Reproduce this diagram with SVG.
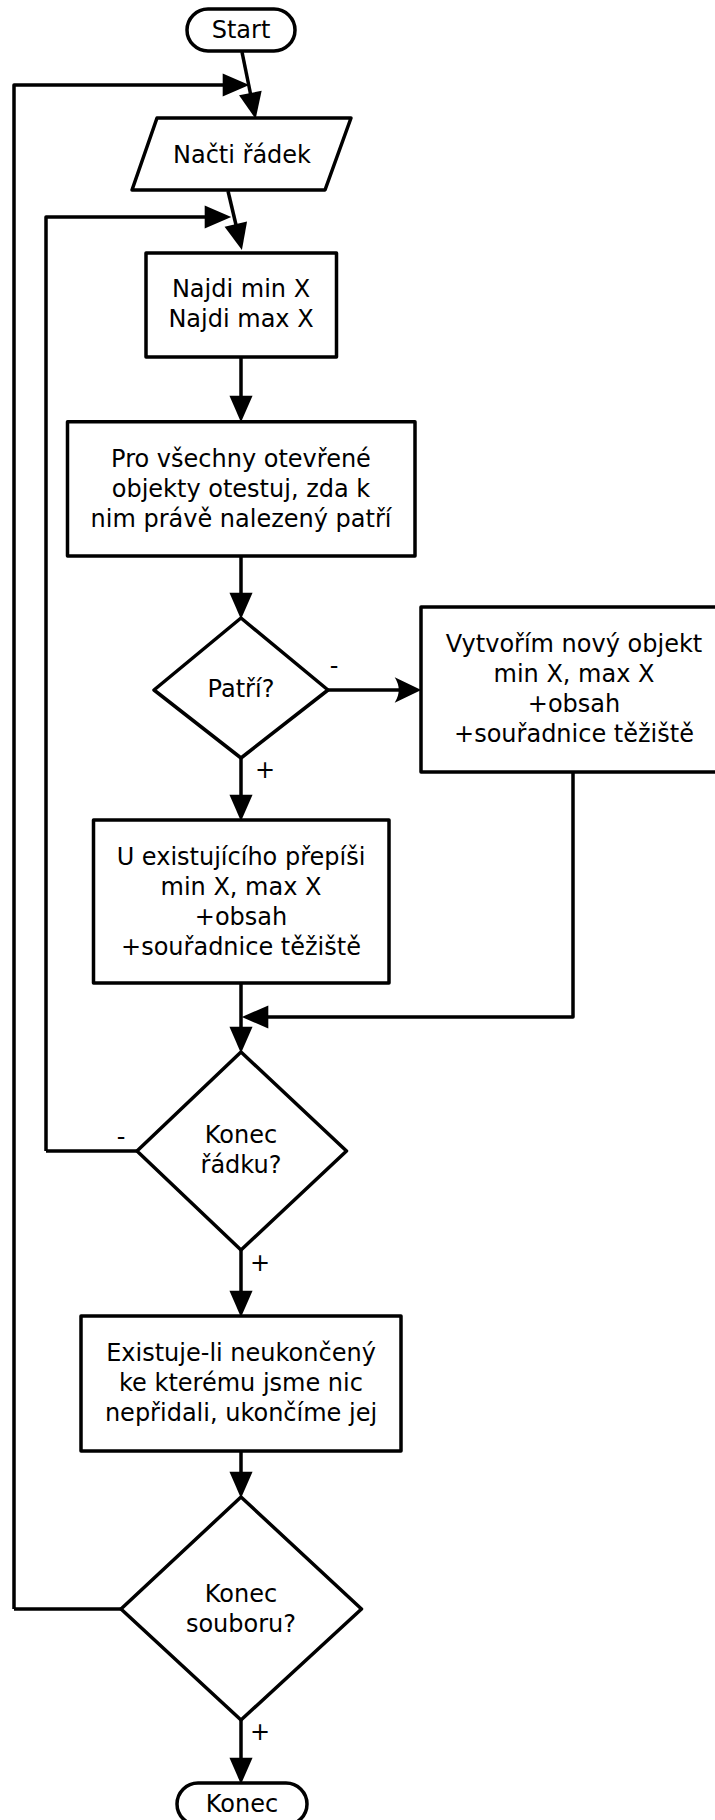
<svg xmlns="http://www.w3.org/2000/svg" width="715" height="1820" viewBox="0 0 715 1820">
<style>
.s{fill:#fff;stroke:#000;stroke-width:3.5;stroke-linejoin:round}
.c{fill:none;stroke:#000;stroke-width:3.5;stroke-linejoin:round}
text{font-family:"DejaVu Sans",sans-serif;font-size:24px;fill:#000;text-anchor:middle}
</style>
<defs>
<marker id="a" markerUnits="userSpaceOnUse" markerWidth="30" markerHeight="30" viewBox="-1 -12 26 24" refX="15" refY="0" orient="auto">
<path d="M0,-10 L23,0 L0,10 z" fill="#000"/>
</marker>
<marker id="b" markerUnits="userSpaceOnUse" markerWidth="30" markerHeight="30" viewBox="-1 -12 26 24" refX="15" refY="0" orient="auto">
<path d="M0,-11 L23,0 L0,11 Q7,0 0,-11 z" fill="#000"/>
</marker>
</defs>
<g id="connectors">
<path class="c" d="M242,52 L253.8,110" marker-end="url(#a)"/>
<path class="c" d="M14,1609 L14,85 L240,85" marker-end="url(#a)"/>
<path class="c" d="M228,191 L239.8,241" marker-end="url(#a)"/>
<path class="c" d="M46,1151 L46,217 L222,217" marker-end="url(#a)"/>
<path class="c" d="M241,357 L241,413" marker-end="url(#a)"/>
<path class="c" d="M241,556 L241,610" marker-end="url(#a)"/>
<path class="c" d="M328,690 L412,690" marker-end="url(#b)"/>
<path class="c" d="M241,758 L241,812" marker-end="url(#a)"/>
<path class="c" d="M573,772 L573,1017 L251,1017" marker-end="url(#a)"/>
<path class="c" d="M241,983 L241,1044" marker-end="url(#a)"/>
<path class="c" d="M137,1151 L46,1151"/>
<path class="c" d="M241,1250 L241,1308" marker-end="url(#a)"/>
<path class="c" d="M241,1451 L241,1489" marker-end="url(#a)"/>
<path class="c" d="M121,1609 L14,1609"/>
<path class="c" d="M241,1720 L241,1775" marker-end="url(#a)"/>
<text x="334" y="674">-</text>
<text x="265" y="778">+</text>
<text x="121" y="1145">-</text>
<text x="260" y="1271">+</text>
<text x="260" y="1740">+</text>
</g>
<g id="start">
<rect class="s" x="187" y="9" width="108" height="42" rx="21"/>
<text x="241" y="38">Start</text>
</g>
<g id="nacti">
<path class="s" d="M157,118 L351,118 L325,190 L132,190 z"/>
<text x="242" y="163">Načti řádek</text>
</g>
<g id="najdi">
<rect class="s" x="146" y="253" width="190.5" height="104"/>
<text x="241" y="297">Najdi min X</text>
<text x="241" y="327">Najdi max X</text>
</g>
<g id="pro">
<rect class="s" x="67.5" y="421.7" width="347.5" height="134.3"/>
<text x="241" y="467">Pro všechny otevřené</text>
<text x="241" y="497">objekty otestuj, zda k</text>
<text x="241" y="527">nim právě nalezený patří</text>
</g>
<g id="patri">
<path class="s" d="M241,618 L328,690 L241,758 L154,690 z"/>
<text x="241" y="697">Patří?</text>
</g>
<g id="vytvorim">
<rect class="s" x="421" y="607" width="306" height="165"/>
<text x="574" y="652">Vytvořím nový objekt</text>
<text x="574" y="682">min X, max X</text>
<text x="574" y="712">+obsah</text>
<text x="574" y="742">+souřadnice těžiště</text>
</g>
<g id="existujici">
<rect class="s" x="93.5" y="820" width="295.5" height="163"/>
<text x="241" y="865">U existujícího přepíši</text>
<text x="241" y="895">min X, max X</text>
<text x="241" y="925">+obsah</text>
<text x="241" y="955">+souřadnice těžiště</text>
</g>
<g id="konecradku">
<path class="s" d="M241,1052 L346.5,1151 L241,1250 L137,1151 z"/>
<text x="241" y="1143">Konec</text>
<text x="241" y="1173">řádku?</text>
</g>
<g id="existuje">
<rect class="s" x="81" y="1316" width="320" height="135"/>
<text x="241" y="1361">Existuje-li neukončený</text>
<text x="241" y="1391">ke kterému jsme nic</text>
<text x="241" y="1421">nepřidali, ukončíme jej</text>
</g>
<g id="konecsouboru">
<path class="s" d="M241,1497 L361.5,1609 L241,1720 L121,1609 z"/>
<text x="241" y="1602">Konec</text>
<text x="241" y="1632">souboru?</text>
</g>
<g id="konec">
<rect class="s" x="177" y="1783" width="130" height="42" rx="21"/>
<text x="242" y="1812">Konec</text>
</g>
</svg>
